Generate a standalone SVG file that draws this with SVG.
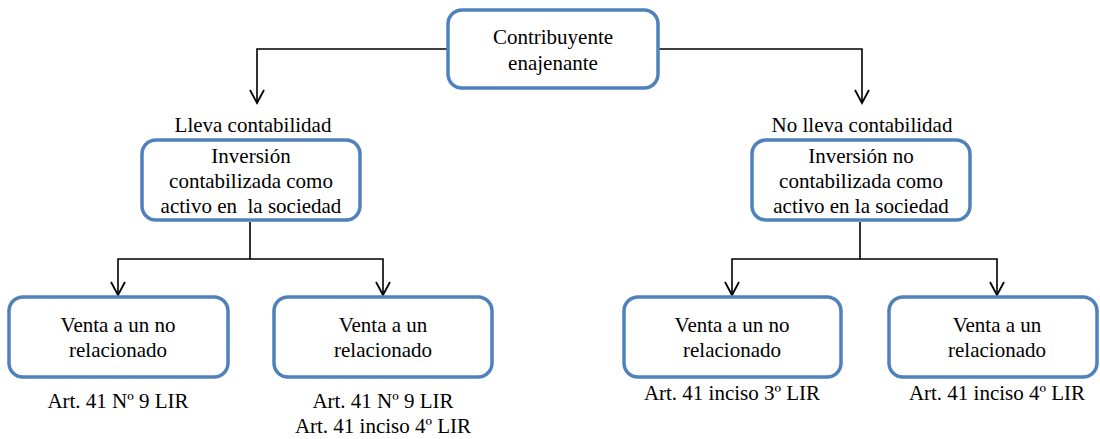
<svg xmlns="http://www.w3.org/2000/svg" width="1100" height="439" viewBox="0 0 1100 439">
<style>
.box{fill:#fff;stroke:#4F81BD;stroke-width:3.5}
.t{font-family:'Liberation Serif',Tinos,'Times New Roman',Times,serif;font-size:21px;fill:#000;text-anchor:middle}
.c{fill:none;stroke:#000;stroke-width:1.6}
</style>
<defs>
<marker id="arr" markerUnits="userSpaceOnUse" markerWidth="18" markerHeight="18" viewBox="-16 -9 18 18" refX="0" refY="0" orient="auto">
<path d="M-13,-7 L0,0 L-13,7" fill="none" stroke="#000" stroke-width="1.8"/>
</marker>
</defs>
<g id="connectors">
<path class="c" d="M448,49 H257 V103" marker-end="url(#arr)"/>
<path class="c" d="M658,49 H862 V103" marker-end="url(#arr)"/>
<path class="c" d="M250,222 V259 H118 V295" marker-end="url(#arr)"/>
<path class="c" d="M250,259 H383 V295" marker-end="url(#arr)"/>
<path class="c" d="M860,222 V259 H732 V295" marker-end="url(#arr)"/>
<path class="c" d="M860,259 H997 V295" marker-end="url(#arr)"/>
</g>
<g id="n_top"><rect class="box" x="448" y="10" width="210" height="78" rx="14"/>
<text class="t" x="553" y="44">Contribuyente</text><text class="t" x="553" y="70">enajenante</text></g>
<g id="l_lleva"><text class="t" x="253" y="132">Lleva contabilidad</text></g>
<g id="n_left"><rect class="box" x="142" y="140" width="218" height="80" rx="14"/>
<text class="t" x="251" y="163">Inversión</text><text class="t" x="251" y="188">contabilizada como</text><text class="t" x="251" y="213" xml:space="preserve">activo en  la sociedad</text></g>
<g id="l_nolleva"><text class="t" x="862" y="132">No lleva contabilidad</text></g>
<g id="n_right"><rect class="box" x="752" y="140" width="218" height="80" rx="14"/>
<text class="t" x="861" y="163">Inversión no</text><text class="t" x="861" y="188">contabilizada como</text><text class="t" x="861" y="213">activo en la sociedad</text></g>
<g id="n_b1"><rect class="box" x="9" y="297" width="219" height="80" rx="14"/>
<text class="t" x="118" y="332">Venta a un no</text><text class="t" x="118" y="357">relacionado</text>
<text class="t" x="118" y="408">Art. 41 Nº 9 LIR</text></g>
<g id="n_b2"><rect class="box" x="274" y="297" width="218" height="80" rx="14"/>
<text class="t" x="383" y="332">Venta a un</text><text class="t" x="383" y="357">relacionado</text>
<text class="t" x="383" y="408">Art. 41 Nº 9 LIR</text><text class="t" x="383" y="433">Art. 41 inciso 4º LIR</text></g>
<g id="n_b3"><rect class="box" x="624" y="297" width="217" height="80" rx="14"/>
<text class="t" x="732" y="332">Venta a un no</text><text class="t" x="732" y="357">relacionado</text>
<text class="t" x="732" y="400">Art. 41 inciso 3º LIR</text></g>
<g id="n_b4"><rect class="box" x="889" y="297" width="208" height="80" rx="14"/>
<text class="t" x="997" y="332">Venta a un</text><text class="t" x="997" y="357">relacionado</text>
<text class="t" x="997" y="400">Art. 41 inciso 4º LIR</text></g>
</svg>
